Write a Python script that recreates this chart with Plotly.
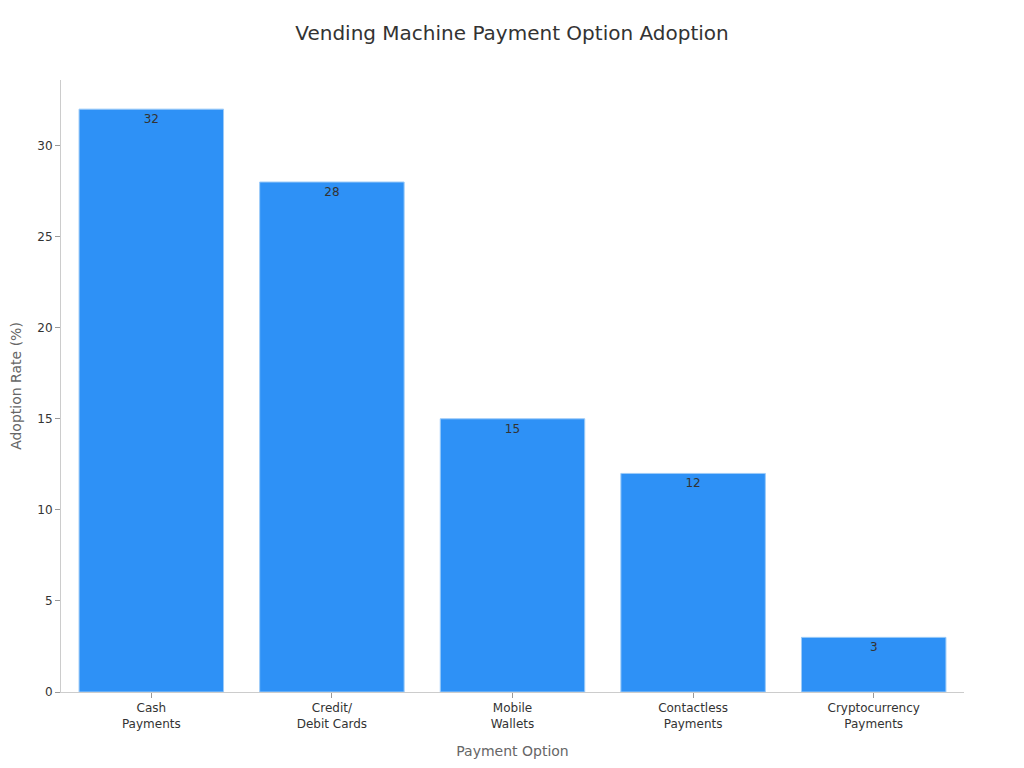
import plotly.graph_objects as go

categories = ['Cash<br>Payments', 'Credit/<br>Debit Cards', 'Mobile<br>Wallets',
              'Contactless<br>Payments', 'Cryptocurrency<br>Payments']
adoption = [32, 28, 15, 12, 3]

fig = go.Figure()
fig.add_trace(go.Bar(x=categories,
                     y=adoption,
                     text=adoption,
                     textposition='inside',
                     insidetextanchor='end',
                     textfont=dict(color='#333333', size=12),
                     marker=dict(color='#2E91F6',
                                 line=dict(color='#9CCBF8', width=1)),
                     ))
fig.update_layout(
    title=dict(text='Vending Machine Payment Option Adoption', x=0.5,
               y=0.976, xanchor='center',
               font=dict(size=20, color='#333333')),
    font=dict(family='DejaVu Sans', color='#333333', size=12),
    width=1008, height=752,
    margin=dict(l=53, r=52, t=72, b=68),
    plot_bgcolor='white',
    paper_bgcolor='white',
    bargap=0.2,
    showlegend=False,
    xaxis=dict(title=dict(text='Payment Option',
                          font=dict(size=14, color='#666666'), standoff=16),
               automargin=False,
               showline=True, linecolor='#cccccc', linewidth=1,
               ticks='outside', ticklen=5, tickcolor='#999999'),
    yaxis=dict(title=dict(text='Adoption Rate (%)',
                          font=dict(size=14, color='#666666'), standoff=15),
               automargin=False,
               range=[0, 33.6], dtick=5,
               showline=True, linecolor='#cccccc', linewidth=1,
               showgrid=False, zeroline=False,
               ticks='outside', ticklen=5, tickcolor='#999999'),
)
fig.write_html('out.html')
